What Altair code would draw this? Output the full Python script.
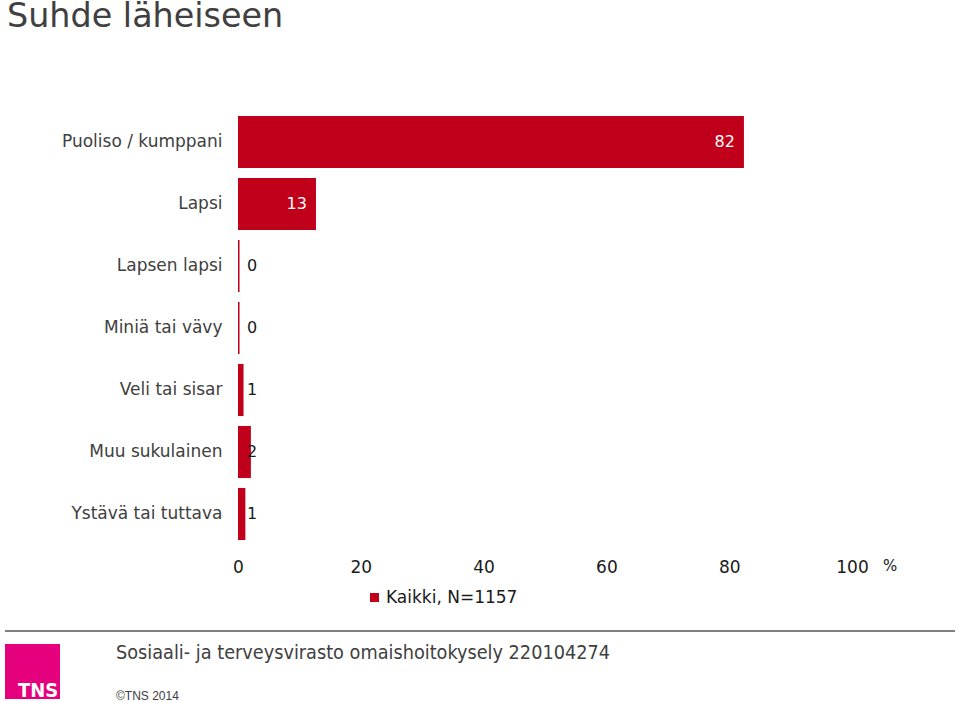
import altair as alt
import pandas as pd

categories = ["Puoliso / kumppani", "Lapsi", "Lapsen lapsi", "Miniä tai vävy",
              "Veli tai sisar", "Muu sukulainen", "Ystävä tai tuttava"]
values = [82.4, 12.7, 0.25, 0.25, 0.9, 2.1, 1.2]
series_name = "Kaikki, N=1157"
x_ticks = [0, 20, 40, 60, 80, 100]

RED = "#C0001A"
FONT = "DejaVu Sans"

df = pd.DataFrame({"cat": categories, "val": values, "series": series_name})
one = pd.DataFrame({"k": [0]})

W, H = 614, 434
y_enc = alt.Y("cat:N", sort=categories,
              scale=alt.Scale(paddingInner=0.16, paddingOuter=0.08),
              axis=alt.Axis(title=None, ticks=False, domain=False, labelPadding=16,
                            labelFontSize=17, labelColor="#404040", labelFont=FONT,
                            labelLimit=300))
x_scale = alt.Scale(domain=[0, 100], nice=False)

bars = alt.Chart(df).mark_bar().encode(
    y=y_enc,
    x=alt.X("val:Q", scale=x_scale,
            axis=alt.Axis(title=None, values=x_ticks, ticks=False, domain=False, grid=False,
                          labelFlush=False,
                          labelPadding=14, labelFontSize=17, labelColor="#1a1a1a",
                          labelFont=FONT)),
    color=alt.Color("series:N", scale=alt.Scale(domain=[series_name], range=[RED]),
                    legend=alt.Legend(title=None, orient="none", legendX=128, legendY=478,
                                      symbolType="square", symbolSize=81,
                                      symbolStrokeWidth=0,
                                      labelFontSize=17, labelFont=FONT, labelColor="#1a1a1a",
                                      labelOffset=3)),
)

big_labels = alt.Chart(df).transform_filter("datum.val >= 10").mark_text(
    align="right", baseline="middle", dx=-9, fontSize=16, font=FONT, color="white"
).encode(y=alt.Y("cat:N", sort=categories), x=alt.X("val:Q", scale=x_scale),
         text=alt.Text("val:Q", format=".0f"))

small_labels = alt.Chart(df).transform_filter("datum.val < 10").mark_text(
    align="left", baseline="middle", dx=9, fontSize=16, font=FONT, color="#1a1a1a"
).encode(y=alt.Y("cat:N", sort=categories), x=alt.datum(0),
         text=alt.Text("val:Q", format=".0f"))

def txt(text, x, y, size, color="#404040", font=FONT, weight="normal", align="left",
        baseline="middle"):
    return alt.Chart(one).mark_text(text=text, fontSize=size, color=color, font=font,
                                    fontWeight=weight, align=align, baseline=baseline).encode(
        x=alt.value(x), y=alt.value(y))

title = txt("Suhde läheiseen", -231, -110, 33.4, color="#404040", baseline="top")
pct = txt("%", 645, 455, 15, color="#1a1a1a")

footer_line = alt.Chart(one).mark_rule(color="#7f7f7f", strokeWidth=2).encode(
    x=alt.value(-233), x2=alt.value(717), y=alt.value(520))
logo = alt.Chart(one).mark_rect(color="#E5007D").encode(
    x=alt.value(-233), x2=alt.value(-178), y=alt.value(533), y2=alt.value(588))
logo_text = txt("TNS", -220, 586, 20, color="white", font="DejaVu Sans Condensed",
                weight="bold", baseline="alphabetic")
footer_text = txt("Sosiaali- ja terveysvirasto omaishoitokysely 220104274", -122, 542, 19.7,
                  color="#404040", font="DejaVu Sans Condensed")
copyright_text = txt("©TNS 2014", -122, 585, 12, color="#404040", font="Liberation Sans")

chart = alt.layer(
    bars, big_labels, small_labels, title, pct, footer_line, logo, logo_text,
    footer_text, copyright_text
).properties(
    width=W, height=H,
    background="white",
    autosize=alt.AutoSizeParams(type="none"),
    padding={"left": 238, "top": 111, "right": 107, "bottom": 157},
).configure_view(stroke=None)

chart.save("out.html", embed_options={"renderer": "svg", "actions": False})
